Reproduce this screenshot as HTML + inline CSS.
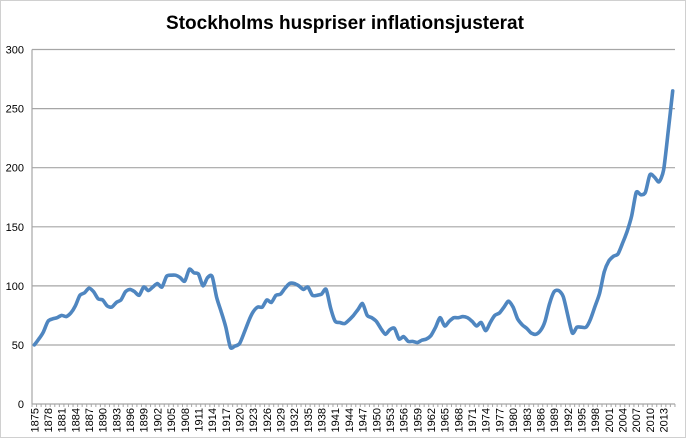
<!DOCTYPE html>
<html><head><meta charset="utf-8"><style>
html,body{margin:0;padding:0;background:#fff;}
svg{display:block;font-family:"Liberation Sans",sans-serif;}
</style></head><body>
<svg width="690" height="438" viewBox="0 0 690 438">
<rect x="0.5" y="0.5" width="685" height="437" fill="#fff" stroke="#d0d0d0"/>
<text x="345" y="29" text-anchor="middle" font-size="19" font-weight="bold" fill="#000">Stockholms huspriser inflationsjusterat</text>
<g stroke="#a6a6a6" stroke-width="1.2">
<line x1="32" x2="675" y1="49.5" y2="49.5"/>
<line x1="32" x2="675" y1="108.6" y2="108.6"/>
<line x1="32" x2="675" y1="167.7" y2="167.7"/>
<line x1="32" x2="675" y1="226.8" y2="226.8"/>
<line x1="32" x2="675" y1="285.9" y2="285.9"/>
<line x1="32" x2="675" y1="345" y2="345"/>
<line x1="32" x2="675" y1="404" y2="404"/>
<line x1="32" x2="32" y1="49.5" y2="404"/>
</g>
<g id="ticks" stroke="#a6a6a6" stroke-width="1"></g>
<g font-size="11" fill="#000" text-anchor="end">
<text x="24" y="53.5">300</text><text x="24" y="112.6">250</text><text x="24" y="171.7">200</text><text x="24" y="230.8">150</text><text x="24" y="289.9">100</text><text x="24" y="349">50</text><text x="24" y="408">0</text>
</g>
<g font-size="11" fill="#000" text-anchor="end">
<text transform="translate(38.3,408) rotate(-90)">1875</text>
<text transform="translate(52.0,408) rotate(-90)">1878</text>
<text transform="translate(65.6,408) rotate(-90)">1881</text>
<text transform="translate(79.3,408) rotate(-90)">1884</text>
<text transform="translate(93.0,408) rotate(-90)">1887</text>
<text transform="translate(106.7,408) rotate(-90)">1890</text>
<text transform="translate(120.4,408) rotate(-90)">1893</text>
<text transform="translate(134.0,408) rotate(-90)">1896</text>
<text transform="translate(147.7,408) rotate(-90)">1899</text>
<text transform="translate(161.4,408) rotate(-90)">1902</text>
<text transform="translate(175.1,408) rotate(-90)">1905</text>
<text transform="translate(188.8,408) rotate(-90)">1908</text>
<text transform="translate(202.4,408) rotate(-90)">1911</text>
<text transform="translate(216.1,408) rotate(-90)">1914</text>
<text transform="translate(229.8,408) rotate(-90)">1917</text>
<text transform="translate(243.5,408) rotate(-90)">1920</text>
<text transform="translate(257.2,408) rotate(-90)">1923</text>
<text transform="translate(270.8,408) rotate(-90)">1926</text>
<text transform="translate(284.5,408) rotate(-90)">1929</text>
<text transform="translate(298.2,408) rotate(-90)">1932</text>
<text transform="translate(311.9,408) rotate(-90)">1935</text>
<text transform="translate(325.6,408) rotate(-90)">1938</text>
<text transform="translate(339.2,408) rotate(-90)">1941</text>
<text transform="translate(352.9,408) rotate(-90)">1944</text>
<text transform="translate(366.6,408) rotate(-90)">1947</text>
<text transform="translate(380.3,408) rotate(-90)">1950</text>
<text transform="translate(394.0,408) rotate(-90)">1953</text>
<text transform="translate(407.6,408) rotate(-90)">1956</text>
<text transform="translate(421.3,408) rotate(-90)">1959</text>
<text transform="translate(435.0,408) rotate(-90)">1962</text>
<text transform="translate(448.7,408) rotate(-90)">1965</text>
<text transform="translate(462.4,408) rotate(-90)">1968</text>
<text transform="translate(476.0,408) rotate(-90)">1971</text>
<text transform="translate(489.7,408) rotate(-90)">1974</text>
<text transform="translate(503.4,408) rotate(-90)">1977</text>
<text transform="translate(517.1,408) rotate(-90)">1980</text>
<text transform="translate(530.8,408) rotate(-90)">1983</text>
<text transform="translate(544.4,408) rotate(-90)">1986</text>
<text transform="translate(558.1,408) rotate(-90)">1989</text>
<text transform="translate(571.8,408) rotate(-90)">1992</text>
<text transform="translate(585.5,408) rotate(-90)">1995</text>
<text transform="translate(599.2,408) rotate(-90)">1998</text>
<text transform="translate(612.8,408) rotate(-90)">2001</text>
<text transform="translate(626.5,408) rotate(-90)">2004</text>
<text transform="translate(640.2,408) rotate(-90)">2007</text>
<text transform="translate(653.9,408) rotate(-90)">2010</text>
<text transform="translate(667.6,408) rotate(-90)">2013</text>
</g>
<path id="line" fill="none" stroke="#4f86c0" stroke-width="3.6" stroke-linejoin="round" stroke-linecap="round"/>
</svg>
<script>
var v=[50,55,61,70,72,73,75,74,77,83,92,94,98,95,89,88,83,82,86,88,95,97,95,92,99,96,99,102,99,108,109,109,107,104,114,111,110,100,107,108,90,78,65,48,49,51,60,70,78,82,82,88,86,92,93,98,102,102,100,97,99,92,92,93,97,81,70,69,68,71,75,80,85,75,73,70,64,59,63,64,55,57,53,53,52,54,55,58,65,73,66,70,73,73,74,73,70,66,69,62,69,75,77,82,87,82,72,67,64,60,59,62,70,85,95,96,91,75,60,65,65,65,72,83,94,112,121,125,127,136,146,159,179,177,179,194,192,188,198,230,265];
function X(i){return 32+4.56*(i+0.5);}
function Y(a){return 404-a*354.5/300;}
var p=[];for(var i=0;i<v.length;i++)p.push([X(i),Y(v[i])]);
var d="M"+p[0][0].toFixed(1)+","+p[0][1].toFixed(1);
for(var i=0;i<p.length-1;i++){var p0=p[i-1]||p[i],p1=p[i],p2=p[i+1],p3=p[i+2]||p2;
var c1x=p1[0]+(p2[0]-p0[0])/8,c1y=p1[1]+(p2[1]-p0[1])/8,c2x=p2[0]-(p3[0]-p1[0])/8,c2y=p2[1]-(p3[1]-p1[1])/8;
d+=" C"+c1x.toFixed(1)+","+c1y.toFixed(1)+" "+c2x.toFixed(1)+","+c2y.toFixed(1)+" "+p2[0].toFixed(1)+","+p2[1].toFixed(1);}
document.getElementById("line").setAttribute("d",d);
var t="";for(var i=0;i<=141;i++){var x=32+4.56*i;t+='<line x1="'+x+'" x2="'+x+'" y1="404" y2="407"/>';}
document.getElementById("ticks").innerHTML=t;
</script>
</body></html>
